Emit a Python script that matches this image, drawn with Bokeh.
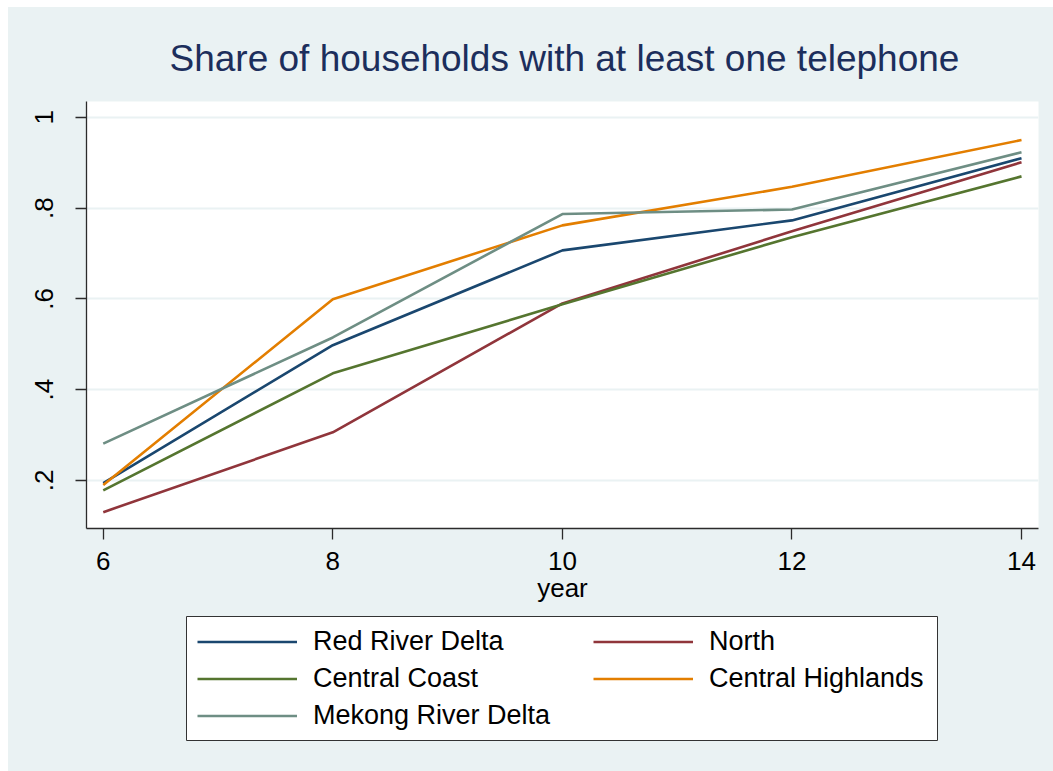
from bokeh.plotting import figure
from bokeh.models import Legend, LegendItem, FixedTicker, Range1d, BoxAnnotation
from bokeh.layouts import column
from bokeh.embed import file_html
from bokeh.resources import INLINE

# ---- data ----
years = [6, 8, 10, 12, 14]
red_river_delta = [0.194, 0.498, 0.707, 0.773, 0.910]
north = [0.130, 0.306, 0.590, 0.749, 0.901]
central_coast = [0.178, 0.436, 0.588, 0.736, 0.870]
central_highlands = [0.190, 0.599, 0.762, 0.847, 0.950]
mekong_river_delta = [0.281, 0.515, 0.787, 0.797, 0.923]

series_names = ["Red River Delta", "North", "Central Coast",
                "Central Highlands", "Mekong River Delta"]
series_values = [red_river_delta, north, central_coast,
                 central_highlands, mekong_river_delta]
series_colors = ["#1A476F", "#90353B", "#55752F", "#E37E00", "#6E8E84"]

x_ticks = [6, 8, 10, 12, 14]
y_ticks = [0.2, 0.4, 0.6, 0.8, 1]
y_tick_labels = [".2", ".4", ".6", ".8", "1"]

title_text = "Share of households with at least one telephone"
x_label = "year"

BG = "#EAF2F3"
FONT = "Liberation Sans"
AX = "#2b2b2b"
LW = 2.6

# ---------------- main chart ----------------
p = figure(width=1045, height=608, output_backend="svg", toolbar_location=None,
           x_range=Range1d(5.854, 14.148), y_range=Range1d(0.094, 1.035),
           min_border_left=78, min_border_right=15, min_border_top=94,
           min_border_bottom=87,
           background_fill_color="white", border_fill_color=BG,
           outline_line_color=None)

p.title.text = title_text
p.title.align = "left"
p.title.offset = 83
p.title.text_font = FONT
p.title.text_font_size = "37px"
p.title.text_font_style = "normal"
p.title.text_color = "#1C2E5C"
p.title.standoff = 46

xa = p.xaxis[0]
xa.ticker = FixedTicker(ticks=x_ticks)
xa.axis_label = x_label
xa.axis_label_text_font = FONT
xa.axis_label_text_font_size = "26px"
xa.axis_label_text_font_style = "normal"
xa.axis_label_text_color = "black"
xa.axis_label_standoff = 0
xa.major_label_text_font = FONT
xa.major_label_text_font_size = "26px"
xa.major_label_text_color = "black"
xa.major_label_standoff = 12
xa.major_tick_out = 11
xa.major_tick_in = 0
xa.minor_tick_out = 0
xa.minor_tick_in = 0
xa.axis_line_color = AX
xa.axis_line_width = 1.3
xa.major_tick_line_color = AX
xa.major_tick_line_width = 1.3

ya = p.yaxis[0]
ya.ticker = FixedTicker(ticks=y_ticks)
ya.major_label_overrides = dict(zip(y_ticks, y_tick_labels))
ya.major_label_orientation = "vertical"
ya.major_label_text_font = FONT
ya.major_label_text_font_size = "26px"
ya.major_label_text_color = "black"
ya.major_label_standoff = 22
ya.major_tick_out = 11
ya.major_tick_in = 0
ya.minor_tick_out = 0
ya.minor_tick_in = 0
ya.axis_line_color = AX
ya.axis_line_width = 1.3
ya.major_tick_line_color = AX
ya.major_tick_line_width = 1.3

p.xgrid.visible = False
p.ygrid.ticker = FixedTicker(ticks=y_ticks)
p.ygrid.grid_line_color = BG
p.ygrid.grid_line_width = 2

for vals, col in zip(series_values, series_colors):
    p.line(years, vals, line_color=col, line_width=LW)

# ---------------- legend panel (frame aligned with main chart) ----------------
LEG_W, LEG_H = 952, 156
leg = figure(width=1045, height=LEG_H, output_backend="svg", toolbar_location=None,
             x_range=Range1d(0, LEG_W), y_range=Range1d(0, LEG_H),
             x_axis_location=None, y_axis_location=None,
             min_border_left=78, min_border_right=15, min_border_top=0,
             min_border_bottom=0,
             background_fill_color=BG, border_fill_color=BG,
             outline_line_color=None)
leg.xgrid.visible = False
leg.ygrid.visible = False

# legend frame box
leg.add_layout(BoxAnnotation(left=100, right=851, bottom=31, top=155,
                             fill_color="white", fill_alpha=1,
                             line_color="#333333", line_alpha=1, line_width=1,
                             line_dash="solid"))

leg_items = {}
for name, vals, col in zip(series_names, series_values, series_colors):
    r = leg.line(years, vals, line_color=col, line_width=LW, visible=False)
    leg_items[name] = LegendItem(label=name, renderers=[r])

common = dict(label_text_font=FONT, label_text_font_size="27px",
              label_text_color="black",
              glyph_width=100, glyph_height=31, label_height=31,
              label_standoff=16, spacing=6, padding=0, margin=0,
              border_line_color=None, background_fill_alpha=0,
              inactive_fill_alpha=0)

col1 = [leg_items[n] for n in series_names[0::2]]
col2 = [leg_items[n] for n in series_names[1::2]]
leg.add_layout(Legend(items=col1, location=(111, 40), **common), "center")
leg.add_layout(Legend(items=col2, location=(507, 77), **common), "center")

layout = column(p, leg, margin=(7, 0, 0, 8), spacing=0,
                styles={"background-color": BG})
open("out.html", "w").write(file_html(layout, INLINE))
